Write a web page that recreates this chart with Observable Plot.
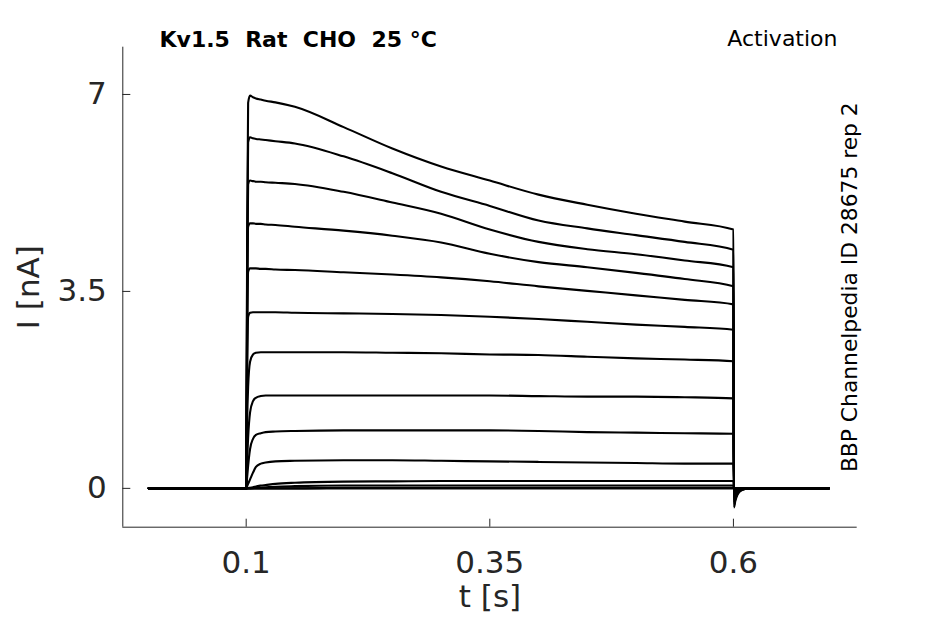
<!DOCTYPE html>
<html><head><meta charset="utf-8">
<script src="https://cdn.jsdelivr.net/npm/d3@7"></script>
<script src="https://cdn.jsdelivr.net/npm/@observablehq/plot@0.6"></script>
<style>html,body{margin:0;padding:0;background:#fff;} #chart{width:945px;height:624px;}</style>
</head><body><div id="chart"></div>
<script>
// sample times (s)
const times = [0, 0.0995, 0.1, 0.101, 0.102, 0.104, 0.107, 0.11, 0.115, 0.12, 0.13, 0.15, 0.2, 0.25, 0.3, 0.35, 0.4, 0.45, 0.5, 0.55, 0.6, 0.6005, 0.602, 0.604, 0.607, 0.612, 0.62, 0.698];
// current (nA) of each sweep at those times
const sweep1  = [0,0,0, 4.5, 6.85, 6.98, 6.95, 6.93, 6.91, 6.89, 6.86, 6.78, 6.42, 6.04, 5.72, 5.47, 5.22, 5.04, 4.88, 4.74, 4.60, -0.34, -0.22, -0.12, -0.05, -0.01, 0, 0];
const sweep2  = [0,0,0, 4.0, 6.15, 6.24, 6.22, 6.21, 6.20, 6.19, 6.17, 6.13, 5.90, 5.60, 5.27, 5.02, 4.76, 4.62, 4.50, 4.38, 4.24, -0.30, -0.19, -0.10, -0.04, -0.01, 0, 0];
const sweep3  = [0,0,0, 3.5, 5.40, 5.47, 5.46, 5.45, 5.45, 5.44, 5.43, 5.41, 5.27, 5.08, 4.88, 4.60, 4.38, 4.25, 4.16, 4.05, 3.93, -0.26, -0.16, -0.08, -0.03, -0.01, 0, 0];
const sweep4  = [0,0,0, 3.0, 4.65, 4.71, 4.71, 4.70, 4.70, 4.69, 4.68, 4.65, 4.58, 4.49, 4.37, 4.17, 4.02, 3.93, 3.83, 3.72, 3.59, -0.22, -0.13, -0.07, -0.03, -0.01, 0, 0];
const sweep5  = [0,0,0, 2.5, 3.85, 3.91, 3.91, 3.91, 3.90, 3.90, 3.89, 3.88, 3.84, 3.80, 3.75, 3.68, 3.59, 3.51, 3.43, 3.35, 3.27, -0.18, -0.11, -0.06, -0.02, 0, 0, 0];
const sweep6  = [0,0,0, 2.0, 3.05, 3.12, 3.13, 3.13, 3.13, 3.13, 3.13, 3.12, 3.11, 3.10, 3.08, 3.05, 3.01, 2.96, 2.91, 2.87, 2.82, -0.14, -0.08, -0.04, -0.02, 0, 0, 0];
const sweep7  = [0,0,0, 1.2, 1.8, 2.25, 2.38, 2.41, 2.42, 2.42, 2.42, 2.42, 2.42, 2.41, 2.40, 2.38, 2.37, 2.34, 2.31, 2.29, 2.26, -0.10, -0.06, -0.03, -0.01, 0, 0, 0];
const sweep8  = [0,0,0, 0.5, 0.9, 1.35, 1.55, 1.61, 1.64, 1.65, 1.65, 1.65, 1.65, 1.65, 1.65, 1.65, 1.64, 1.63, 1.63, 1.62, 1.60, -0.07, -0.04, -0.02, -0.01, 0, 0, 0];
const sweep9  = [0,0,0, 0.2, 0.4, 0.7, 0.88, 0.95, 0.98, 1.00, 1.01, 1.02, 1.03, 1.03, 1.03, 1.03, 1.02, 1.00, 0.99, 0.98, 0.97, -0.04, -0.02, -0.01, 0, 0, 0, 0];
const sweep10 = [0,0,0, 0.04, 0.08, 0.16, 0.28, 0.38, 0.44, 0.46, 0.48, 0.49, 0.50, 0.50, 0.49, 0.48, 0.47, 0.46, 0.45, 0.44, 0.44, -0.02, -0.01, 0, 0, 0, 0, 0];
const sweep11 = [0,0,0, 0, 0.005, 0.01, 0.02, 0.035, 0.05, 0.06, 0.08, 0.10, 0.12, 0.125, 0.13, 0.13, 0.13, 0.13, 0.13, 0.13, 0.13, 0, 0, 0, 0, 0, 0, 0];
const sweep12 = [0,0,0, 0, 0, 0, 0.005, 0.01, 0.015, 0.02, 0.03, 0.04, 0.05, 0.05, 0.05, 0.05, 0.05, 0.05, 0.05, 0.05, 0.05, 0, 0, 0, 0, 0, 0, 0];
const sweep13 = [0,0,0, 0, 0, 0, 0, 0, 0, 0, 0, 0, 0.01, 0.01, 0.01, 0.01, 0.01, 0.01, 0.01, 0.01, 0.01, 0, 0, 0, 0, 0, 0, 0];
const sweep14 = [0,0,0, 0, 0, 0, 0, 0, 0, 0, 0, 0, 0, 0, 0, 0, 0, 0, 0, 0, 0, 0, 0, 0, 0, 0, 0, 0];
const sweeps = [sweep1, sweep2, sweep3, sweep4, sweep5, sweep6, sweep7, sweep8, sweep9, sweep10, sweep11, sweep12, sweep13, sweep14];

const xTicks = [0.1, 0.35, 0.6];
const xTickLabels = ["0.1", "0.35", "0.6"];
const yTicks = [0, 3.5, 7];
const yTickLabels = ["0", "3.5", "7"];
const xDomain = [-0.0266, 0.727];
const yDomain = [-0.69, 7.84];

const title = "Kv1.5\u00a0\u00a0Rat\u00a0\u00a0CHO\u00a0\u00a025 °C";
const protocol = "Activation";
const sideNote = "BBP Channelpedia ID 28675 rep 2";
const xLabel = "t [s]";
const yLabel = "I [nA]";

const rows = sweeps.flatMap((s, k) => s.map((v, i) => ({sweep: k, t: times[i], I: v})));

const W = 945, H = 624, mL = 122.3, mR = 88.3, mT = 46.7, mB = 97.3;
const fw = W - mL - mR, fh = H - mT - mB;
const axisColor = "#262626";
const font = "DejaVu Sans";

const chart = Plot.plot({
  width: W, height: H,
  marginLeft: mL, marginRight: mR, marginTop: mT, marginBottom: mB,
  style: {fontFamily: font, background: "white", overflow: "visible"},
  x: {domain: xDomain, axis: null},
  y: {domain: yDomain, axis: null},
  marks: [
    Plot.line(rows, {x: "t", y: "I", z: "sweep", curve: "monotone-x", stroke: "black", strokeWidth: 2.1, strokeLinejoin: "round"}),
    Plot.ruleX([xDomain[0]], {stroke: axisColor, strokeWidth: 1}),
    Plot.ruleY([yDomain[0]], {stroke: axisColor, strokeWidth: 1}),
    Plot.tickY(yTicks, {y: d => d, insetRight: fw - 8, stroke: axisColor, strokeWidth: 1}),
    Plot.tickX(xTicks, {x: d => d, insetTop: fh - 8, stroke: axisColor, strokeWidth: 1}),
    Plot.text(yTicks, {y: d => d, frameAnchor: "left", dx: -16, text: (d, i) => yTickLabels[i], textAnchor: "end", lineAnchor: "middle", fontSize: 31, fill: axisColor}),
    Plot.text(xTicks, {x: d => d, frameAnchor: "bottom", dy: 45.5, text: (d, i) => xTickLabels[i], textAnchor: "middle", lineAnchor: "bottom", fontSize: 31, fill: axisColor}),
    Plot.text([xLabel], {frameAnchor: "bottom", dy: 80, textAnchor: "middle", lineAnchor: "bottom", fontSize: 31, fill: axisColor}),
    Plot.text([yLabel], {frameAnchor: "left", dx: -84, rotate: -90, textAnchor: "middle", lineAnchor: "bottom", fontSize: 31, fill: axisColor}),
    Plot.text([title], {frameAnchor: "top-left", dx: 36.7, dy: 0, textAnchor: "start", lineAnchor: "bottom", fontSize: 22, fontWeight: "bold", fill: "black"}),
    Plot.text([protocol], {frameAnchor: "top-right", dx: -19.7, dy: -1, textAnchor: "end", lineAnchor: "bottom", fontSize: 22, fill: "black"}),
    Plot.text([sideNote], {frameAnchor: "right", dx: 0, rotate: -90, textAnchor: "middle", lineAnchor: "bottom", fontSize: 21.8, fill: "black"})
  ]
});
document.getElementById("chart").appendChild(chart);
</script>
</body></html>
